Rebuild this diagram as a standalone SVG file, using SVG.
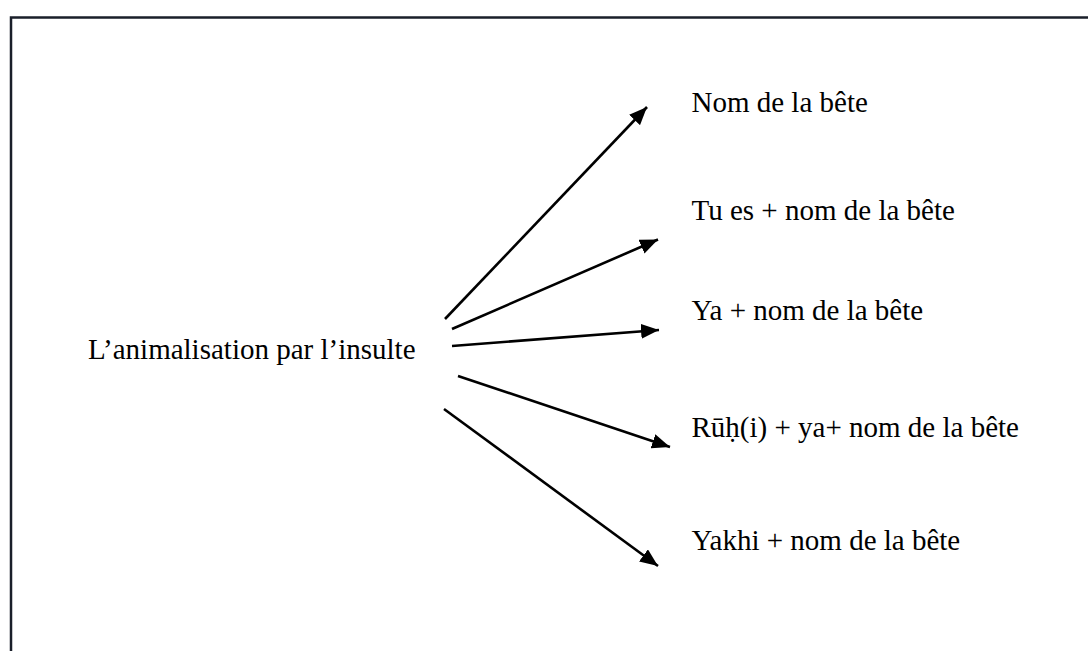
<svg xmlns="http://www.w3.org/2000/svg" width="1088" height="651" viewBox="0 0 1088 651">
  <style>
    .t { font-family: "Liberation Serif", "Times New Roman", serif; font-size: 29px; fill: #000; }
    .c { stroke: #000; stroke-width: 2.6; fill: none; marker-end: url(#ah); }
    .frame { stroke: #1a1f2a; stroke-width: 2.5; fill: none; }
  </style>
  <defs>
    <marker id="ah" markerUnits="userSpaceOnUse" markerWidth="19" markerHeight="15" refX="18" refY="7.5" orient="auto">
      <path d="M0,0 L18,7.5 L0,15 z" fill="#000"/>
    </marker>
  </defs>
  <rect width="1088" height="651" fill="#fff"/>
  <path class="frame" d="M11,651 L11,17.5 L1088,17.5"/>
  <g id="connectors">
    <line class="c" x1="445" y1="319" x2="647" y2="107"/>
    <line class="c" x1="452" y1="329" x2="658" y2="239.5"/>
    <line class="c" x1="452" y1="346" x2="659" y2="330"/>
    <line class="c" x1="458" y1="376" x2="670" y2="447"/>
    <line class="c" x1="444" y1="409" x2="658" y2="566"/>
  </g>
  <g id="source"><text class="t" x="88" y="359">L’animalisation par l’insulte</text></g>
  <g id="n1"><text class="t" x="691.5" y="111.5">Nom de la bête</text></g>
  <g id="n2"><text class="t" x="691.5" y="219.5">Tu es + nom de la bête</text></g>
  <g id="n3"><text class="t" x="691.5" y="320">Ya + nom de la bête</text></g>
  <g id="n4"><text class="t" x="691.5" y="437">Rūḥ(i) + ya+ nom de la bête</text></g>
  <g id="n5"><text class="t" x="691.5" y="550">Yakhi + nom de la bête</text></g>
</svg>
